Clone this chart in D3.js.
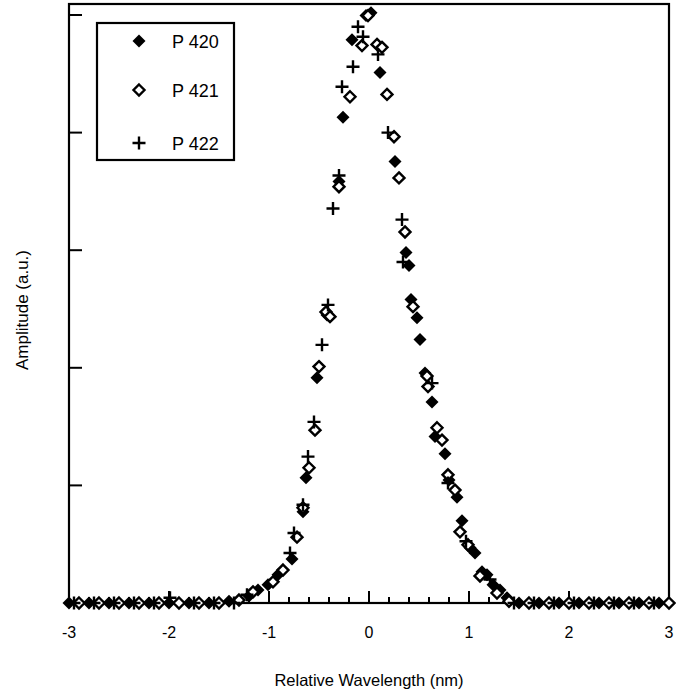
<!DOCTYPE html>
<html><head><meta charset="utf-8">
<script src="https://cdn.jsdelivr.net/npm/d3@7"></script>
<style>body{margin:0;background:#fff}svg{display:block;font-family:Arial,"Liberation Sans",sans-serif}</style>
</head><body><svg id="c" width="676" height="698"></svg>
<script>
const seriesNames = ["P 420", "P 421", "P 422"];
const p420x = [-3.0,-2.8,-2.6,-2.4,-2.2,-2.0,-1.8,-1.6,-1.4,-1.20,-1.11,-1.01,-0.91,-0.77,-0.66,-0.63,-0.52,-0.42,-0.30,-0.26,-0.17,-0.03,0.02,0.11,0.26,0.37,0.40,0.42,0.48,0.51,0.56,0.63,0.66,0.76,0.80,0.88,0.93,1.01,1.06,1.13,1.18,1.24,1.31,1.38,1.5,1.7,1.9,2.1,2.3,2.5,2.7,2.9];
const p420y = [0,0,0,0,0,0,0,0,0.003,0.012,0.022,0.031,0.048,0.075,0.155,0.213,0.383,0.49,0.717,0.826,0.958,0.999,1.004,0.902,0.751,0.596,0.574,0.516,0.485,0.448,0.391,0.342,0.283,0.254,0.209,0.180,0.140,0.094,0.085,0.053,0.048,0.031,0.022,0.009,0,0,0,0,0,0,0,0];
const p421x = [-2.9,-2.7,-2.5,-2.3,-2.1,-1.9,-1.7,-1.5,-1.3,-1.16,-0.96,-0.86,-0.72,-0.66,-0.60,-0.54,-0.50,-0.43,-0.39,-0.30,-0.19,-0.07,-0.01,0.08,0.13,0.18,0.25,0.30,0.36,0.44,0.58,0.59,0.68,0.73,0.79,0.86,0.91,0.99,1.11,1.28,1.4,1.6,1.8,2.0,2.2,2.4,2.6,2.8,3.0];
const p421y = [0,0,0,0,0,0,0,0,0.005,0.019,0.036,0.056,0.112,0.162,0.230,0.294,0.402,0.495,0.487,0.708,0.861,0.948,0.999,0.950,0.945,0.865,0.793,0.723,0.631,0.504,0.386,0.368,0.298,0.277,0.218,0.192,0.121,0.099,0.046,0.017,0.003,0,0,0,0,0,0,0,0];
const p422x = [-2.95,-2.75,-2.55,-2.35,-2.15,-1.99,-1.75,-1.55,-1.35,-1.22,-0.79,-0.75,-0.66,-0.61,-0.55,-0.47,-0.41,-0.36,-0.30,-0.27,-0.16,-0.11,-0.06,0.09,0.19,0.33,0.34,0.63,0.79,0.97,1.21,1.45,1.65,1.85,2.05,2.25,2.45,2.65,2.85];
const p422y = [0,0,0,0,0,0.009,0,0,0,0.014,0.085,0.119,0.167,0.249,0.308,0.439,0.507,0.671,0.727,0.878,0.912,0.980,0.963,0.933,0.800,0.652,0.580,0.374,0.204,0.105,0.040,0,0,0,0,0,0,0,0];
const xTickLabels = [-3,-2,-1,0,1,2,3];
const yTicks = [0,0.2,0.4,0.6,0.8,1.0];

const svg = d3.select("#c");
const L = 69, T = 4, R = 669, B = 603;
const x = d3.scaleLinear().domain([-3,3]).range([L,R]);
const y = d3.scaleLinear().domain([0,1]).range([B,15]);

const diamond = {draw(ctx,size){const r=Math.sqrt(size)/2;ctx.moveTo(0,-r);ctx.lineTo(r,0);ctx.lineTo(0,r);ctx.lineTo(-r,0);ctx.closePath();}};
const plus = {draw(ctx,size){const r=Math.sqrt(size)/2;ctx.moveTo(-r,0);ctx.lineTo(r,0);ctx.moveTo(0,-r);ctx.lineTo(0,r);}};
const styles = [
  {type:diamond,size:13*13,fill:"#000",stroke:"none",sw:0},
  {type:diamond,size:11*11,fill:"#fff",stroke:"#000",sw:2.4},
  {type:plus,size:13*13,fill:"none",stroke:"#000",sw:2.4}
];
const data = [
  p420x.map((v,i)=>({x:v,y:p420y[i]})),
  p421x.map((v,i)=>({x:v,y:p421y[i]})),
  p422x.map((v,i)=>({x:v,y:p422y[i]}))
];

const g = svg.append("g");
const minor = d3.range(-3,3.001,0.2).map(v=>Math.round(v*10)/10);
g.selectAll("line.mn").data(minor).join("line")
  .attr("x1",d=>x(d)).attr("x2",d=>x(d))
  .attr("y1",B).attr("y2",d=>Number.isInteger(d)?B-12:B-6)
  .attr("stroke","#000").attr("stroke-width",2);
g.selectAll("line.yt").data(yTicks).join("line")
  .attr("x1",L).attr("x2",L+13).attr("y1",d=>y(d)).attr("y2",d=>y(d))
  .attr("stroke","#000").attr("stroke-width",2);

svg.append("rect").attr("x",L).attr("y",T).attr("width",R-L).attr("height",B-T)
  .attr("fill","none").attr("stroke","#000").attr("stroke-width",2.2);

data.forEach((ser,si)=>{
  const st = styles[si];
  svg.append("g").selectAll("path").data(ser).join("path")
    .attr("transform",d=>`translate(${x(d.x)},${y(d.y)})`)
    .attr("d",d3.symbol().type(st.type).size(st.size))
    .attr("fill",st.fill).attr("stroke",st.stroke).attr("stroke-width",st.sw);
});

svg.append("g").selectAll("text").data(xTickLabels).join("text")
  .attr("x",d=>x(d)).attr("y",638).attr("text-anchor","middle")
  .attr("font-size",16).text(d=>d);

svg.append("text").attr("x",(L+R)/2).attr("y",686).attr("text-anchor","middle")
  .attr("font-size",16.5).text("Relative Wavelength (nm)");
svg.append("text").attr("transform","translate(28,310) rotate(-90)").attr("text-anchor","middle")
  .attr("font-size",17).text("Amplitude (a.u.)");

const lg = svg.append("g");
lg.append("rect").attr("x",97).attr("y",23).attr("width",137).attr("height",137)
  .attr("fill","#fff").attr("stroke","#000").attr("stroke-width",2.2);
const rowsY = [41,90,143];
seriesNames.forEach((n,i)=>{
  const st = styles[i];
  lg.append("path").attr("transform",`translate(139,${rowsY[i]})`)
    .attr("d",d3.symbol().type(st.type).size(st.size))
    .attr("fill",st.fill).attr("stroke",st.stroke).attr("stroke-width",st.sw);
  lg.append("text").attr("x",172).attr("y",rowsY[i]+7).attr("font-size",18).text(n);
});
</script></body></html>
